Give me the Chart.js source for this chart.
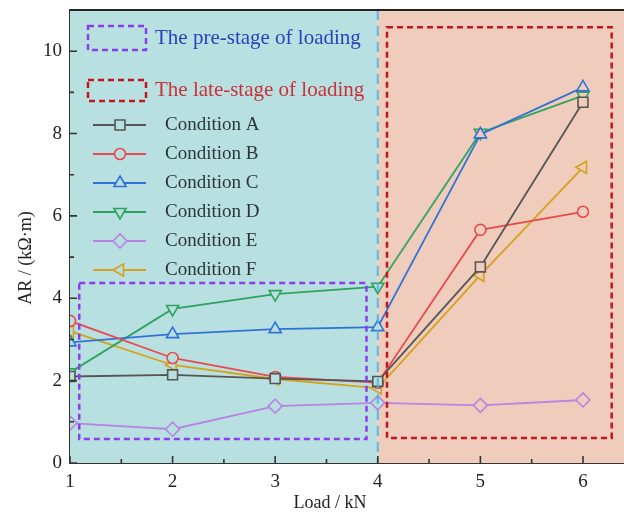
<!DOCTYPE html>
<html>
<head>
<meta charset="utf-8">
<script src="https://cdn.jsdelivr.net/npm/chart.js@4/dist/chart.umd.min.js"></script>
<style>
  html, body { margin: 0; padding: 0; background: #ffffff; }
  canvas { display: block; }
</style>
</head>
<body>
<canvas id="chart" width="624" height="516"></canvas>
<script>
// Datos
const loads = [1, 2, 3, 4, 5, 6];
const condA = [2.10, 2.14, 2.05, 1.98, 4.76, 8.76];
const condB = [3.45, 2.55, 2.09, 1.95, 5.66, 6.10];
const condC = [2.93, 3.13, 3.25, 3.30, 7.98, 9.12];
const condD = [2.20, 3.74, 4.10, 4.28, 8.02, 8.92];
const condE = [0.97, 0.82, 1.38, 1.46, 1.40, 1.53];
const condF = [3.20, 2.38, 2.04, 1.82, 4.56, 7.18];
const conditionNames = ['Condition A', 'Condition B', 'Condition C', 'Condition D', 'Condition E', 'Condition F'];
const stageNames = ['The pre-stage of loading', 'The late-stage of loading'];
const yTicks = [0, 2, 4, 6, 8, 10];
const xTicks = [1, 2, 3, 4, 5, 6];

const TEAL = 'rgb(185, 224, 224)';
const SALMON = 'rgb(239, 204, 188)';
const FONT = '"Liberation Serif", "Times New Roman", serif';

// estilos por serie
const styles = [
    { color: '#555555', pointStyle: 'rect', radius: 7, rotation: 0 },
    { color: '#e84a4d', pointStyle: 'circle', radius: 5.5, rotation: 0 },
    { color: '#2f72d6', pointStyle: 'triangle', radius: 7, rotation: 0 },
    { color: '#2fa35e', pointStyle: 'triangle', radius: 7, rotation: 180 },
    { color: '#b684e4', pointStyle: 'rectRot', radius: 7, rotation: 0 },
    { color: '#d4a21c', pointStyle: 'triangle', radius: 7, rotation: 270 }
];
const series = [condA, condB, condC, condD, condE, condF];

const datasets = series.map((values, i) => ({
    label: conditionNames[i],
    data: values.map((v, j) => ({ x: loads[j], y: v })),
    borderColor: styles[i].color,
    borderWidth: 1.8,
    pointStyle: styles[i].pointStyle,
    pointRadius: styles[i].radius,
    pointRotation: styles[i].rotation,
    pointBorderColor: styles[i].color,
    pointBorderWidth: 1.6,
    pointBackgroundColor: ctx => (ctx.raw && ctx.raw.x <= 4 ? TEAL : SALMON),
    tension: 0
}));

// cajas discontinuas (en unidades de datos)
const preStageBox = { x0: 1.09, x1: 3.89, y0: 0.58, y1: 4.37 };
const lateStageBox = { x0: 4.09, x1: 6.28, y0: 0.61, y1: 10.58 };

const backgroundPlugin = {
    id: 'stageBackground',
    beforeDatasetsDraw(chart) {
        const { ctx, chartArea, scales: { x } } = chart;
        const xSplit = x.getPixelForValue(4);
        ctx.save();
        ctx.fillStyle = TEAL;
        ctx.fillRect(chartArea.left, chartArea.top, xSplit - chartArea.left, chartArea.bottom - chartArea.top);
        ctx.fillStyle = SALMON;
        ctx.fillRect(xSplit, chartArea.top, chartArea.right - xSplit, chartArea.bottom - chartArea.top);
        ctx.restore();
    },
    afterDatasetsDraw(chart) {
        const { ctx, chartArea, scales: { x, y } } = chart;
        const xSplit = x.getPixelForValue(4);
        ctx.save();
        // línea discontinua en 4 kN
        ctx.strokeStyle = 'rgba(80, 180, 230, 0.9)';
        ctx.lineWidth = 2;
        ctx.setLineDash([10, 6]);
        ctx.beginPath();
        ctx.moveTo(xSplit, chartArea.top);
        ctx.lineTo(xSplit, chartArea.bottom);
        ctx.stroke();

        // cajas
        ctx.lineWidth = 2.5;
        ctx.setLineDash([6, 4]);
        ctx.strokeStyle = '#8a3cf0';
        const p = preStageBox;
        ctx.strokeRect(x.getPixelForValue(p.x0), y.getPixelForValue(p.y1),
            x.getPixelForValue(p.x1) - x.getPixelForValue(p.x0), y.getPixelForValue(p.y0) - y.getPixelForValue(p.y1));
        ctx.strokeStyle = '#c0171f';
        const l = lateStageBox;
        ctx.strokeRect(x.getPixelForValue(l.x0), y.getPixelForValue(l.y1),
            x.getPixelForValue(l.x1) - x.getPixelForValue(l.x0), y.getPixelForValue(l.y0) - y.getPixelForValue(l.y1));
        ctx.restore();
    },
    afterDraw(chart) {
        const { ctx, chartArea, scales: { x, y } } = chart;
        ctx.save();
        // ticks hacia dentro
        ctx.strokeStyle = '#333333';
        ctx.lineWidth = 1.6;
        ctx.beginPath();
        for (let v = 0; v <= 11; v++) {
            const py = y.getPixelForValue(v);
            const len = v % 2 === 0 ? 7 : 4;
            ctx.moveTo(chartArea.left, py);
            ctx.lineTo(chartArea.left + len, py);
        }
        for (let v = 1; v <= 6.4; v += 0.5) {
            const px = x.getPixelForValue(v);
            const len = Number.isInteger(v) ? 7 : 4;
            ctx.moveTo(px, chartArea.bottom);
            ctx.lineTo(px, chartArea.bottom - len);
        }
        ctx.stroke();

        // borde superior
        ctx.strokeStyle = '#222222';
        ctx.lineWidth = 2;
        ctx.beginPath();
        ctx.moveTo(chartArea.left, chartArea.top);
        ctx.lineTo(chartArea.right, chartArea.top);
        ctx.stroke();

        // títulos de ejes
        ctx.fillStyle = '#222222';
        ctx.font = '18px ' + FONT;
        ctx.textAlign = 'center';
        ctx.textBaseline = 'middle';
        ctx.fillText('Load / kN', 330, 503);
        ctx.translate(26, 258);
        ctx.rotate(-Math.PI / 2);
        ctx.fillText('AR / (kΩ·m)', 0, 0);
        ctx.restore();

        // leyenda
        ctx.save();
        ctx.textAlign = 'left';
        ctx.textBaseline = 'middle';
        ctx.lineWidth = 2.5;
        ctx.setLineDash([6, 4]);
        ctx.strokeStyle = '#8a3cf0';
        ctx.strokeRect(88, 26, 58, 24);
        ctx.strokeStyle = '#c0171f';
        ctx.strokeRect(88, 80, 58, 21);
        ctx.setLineDash([]);
        ctx.font = '21px ' + FONT;
        ctx.fillStyle = '#2b3fbf';
        ctx.fillText(stageNames[0], 155, 38);
        ctx.fillStyle = '#c8323a';
        ctx.fillText(stageNames[1], 155, 90);

        ctx.font = '19px ' + FONT;
        styles.forEach((s, i) => {
            const cy = 125 + i * 29;
            ctx.strokeStyle = s.color;
            ctx.lineWidth = 1.8;
            ctx.beginPath();
            ctx.moveTo(93, cy);
            ctx.lineTo(146, cy);
            ctx.stroke();
            ctx.fillStyle = TEAL;
            ctx.lineWidth = 1.6;
            Chart.helpers.drawPoint(ctx, { pointStyle: s.pointStyle, radius: s.radius, rotation: s.rotation, borderWidth: 1.6 }, 120, cy);
            ctx.fillStyle = '#2a3636';
            ctx.fillText(conditionNames[i], 165, cy);
        });
        ctx.restore();
    }
};

new Chart(document.getElementById('chart'), {
    type: 'line',
    data: { datasets },
    options: {
        responsive: false,
        animation: false,
        layout: { autoPadding: false, padding: { top: 10, right: 0, left: 0, bottom: 0 } },
        plugins: { legend: { display: false }, tooltip: { enabled: false } },
        scales: {
            x: {
                type: 'linear',
                min: 1,
                max: 6.4,
                grid: { display: false, drawTicks: false },
                border: { display: true, color: '#333333', width: 2 },
                afterBuildTicks: scale => { scale.ticks = xTicks.map(v => ({ value: v })); },
                ticks: { color: '#222222', font: { family: FONT, size: 19 }, padding: 8 },
                afterFit: scale => { scale.height = 53; scale.paddingLeft = 0; scale.paddingRight = 0; }
            },
            y: {
                min: 0,
                max: 11,
                grid: { display: false, drawTicks: false },
                border: { display: true, color: '#333333', width: 2 },
                afterBuildTicks: scale => { scale.ticks = yTicks.map(v => ({ value: v })); },
                ticks: { color: '#222222', font: { family: FONT, size: 19 }, padding: 8 },
                afterFit: scale => { scale.width = 70; scale.paddingTop = 0; scale.paddingBottom = 0; }
            }
        }
    },
    plugins: [backgroundPlugin]
});
</script>
</body>
</html>
